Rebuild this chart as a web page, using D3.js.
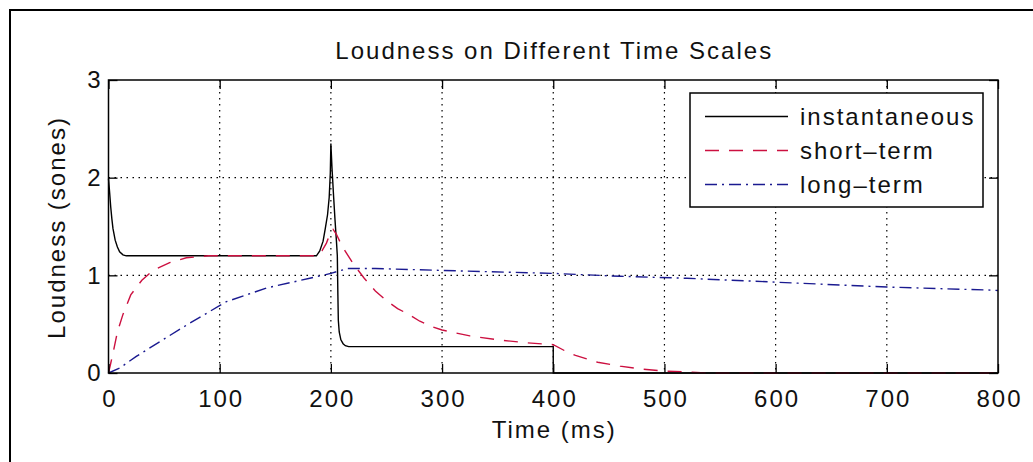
<!DOCTYPE html>
<html lang="en">
<head>
    <meta charset="UTF-8">
    <title>Loudness on Different Time Scales</title>
    <script src="https://d3js.org/d3.v7.min.js"></script>
    <style>
        body { margin: 0; background: #fff; }
        text {
            font-family: "Liberation Sans", Arial, Helvetica, sans-serif;
            font-size: 24px;
            letter-spacing: 2px;
            fill: #111;
        }
        .grid line { stroke: #000; stroke-width: 1.2; stroke-dasharray: 1.5,4.5; }
        .axis path { display: none; }
        .axis line { stroke: #000; stroke-width: 1.3; }
    </style>
</head>
<body>
    <svg width="1033" height="462"></svg>
    <script>
        // tick labels
        const xTicks = [0, 100, 200, 300, 400, 500, 600, 700, 800];
        const yTicks = [0, 1, 2, 3];

        const seriesNames = ["instantaneous", "short\u2013term", "long\u2013term"];

        // instantaneous loudness (ms, sones)
        const instT = [0, 1, 2, 3, 4, 6, 8, 10, 13, 16, 100, 187, 190, 193, 195, 197, 198.5, 199.5, 200,
                       201, 202.5, 203.7, 205, 205.8, 206.3, 206.7, 207.5, 209, 211, 213, 216, 300, 400, 400, 500, 600, 700, 800];
        const instV = [1.99, 1.85, 1.7, 1.58, 1.48, 1.36, 1.29, 1.24, 1.21, 1.2, 1.2, 1.2, 1.25, 1.35, 1.48, 1.62, 1.8, 2.05, 2.35,
                       2.1, 1.8, 1.57, 1.35, 1.2, 0.8, 0.54, 0.42, 0.34, 0.3, 0.28, 0.27, 0.27, 0.27, 0, 0, 0, 0, 0];

        // short-term loudness
        const shortT = [0, 2, 4, 8, 13, 20, 30, 40, 55, 70, 90, 187, 192, 196, 199, 202, 205, 210, 220, 230, 240, 250,
                        260, 270, 280, 292, 300, 325, 350, 375, 400, 410, 420, 440, 460, 480, 500, 520, 540, 600, 700, 800];
        const shortV = [0, 0.1, 0.2, 0.42, 0.6, 0.8, 0.95, 1.05, 1.13, 1.18, 1.2, 1.2, 1.25, 1.33, 1.42, 1.47, 1.42, 1.3, 1.12, 0.97, 0.84, 0.74,
                        0.66, 0.6, 0.53, 0.47, 0.44, 0.38, 0.34, 0.31, 0.29, 0.23, 0.18, 0.11, 0.07, 0.04, 0.02, 0.01, 0, 0, 0, 0];

        // long-term loudness
        const longT = [0, 10, 25, 46, 73, 106, 142, 181, 200, 215, 240, 300, 400, 460, 520, 560, 620, 700, 790, 800];
        const longV = [0, 0.05, 0.17, 0.32, 0.51, 0.73, 0.87, 0.97, 1.02, 1.07, 1.07, 1.05, 1.02, 0.99, 0.97, 0.95, 0.92, 0.88, 0.85, 0.845];

        const series = [
            { name: seriesNames[0], t: instT, v: instV, color: "#000", dash: null },
            { name: seriesNames[1], t: shortT, v: shortV, color: "#cc1040", dash: "14,10" },
            { name: seriesNames[2], t: longT, v: longV, color: "#1a1a90", dash: "12,5,2,5" }
        ];

        const margin = {top: 80, right: 35, bottom: 89, left: 108.5};
        const width = 1033 - margin.left - margin.right;
        const height = 462 - margin.top - margin.bottom;

        const svg = d3.select("svg");

        // outer figure frame (only left and top edges visible)
        svg.append("path")
            .attr("d", "M10,462 V10 H1033")
            .attr("fill", "none")
            .attr("stroke", "#000")
            .attr("stroke-width", 2);

        const g = svg.append("g")
            .attr("transform", `translate(${margin.left},${margin.top})`);

        const x = d3.scaleLinear().domain([0, 800]).range([0, width]);
        const y = d3.scaleLinear().domain([0, 3]).range([height, 0]);

        // dotted grid
        g.append("g").attr("class", "grid")
            .selectAll("line").data(xTicks.slice(1, -1)).enter().append("line")
            .attr("x1", d => x(d)).attr("x2", d => x(d))
            .attr("y1", 0).attr("y2", height);
        g.append("g").attr("class", "grid")
            .selectAll("line").data(yTicks.slice(1, -1)).enter().append("line")
            .attr("x1", 0).attr("x2", width)
            .attr("y1", d => y(d)).attr("y2", d => y(d));

        // curves
        const line = d3.line()
            .x(d => x(d[0]))
            .y(d => y(d[1]));

        series.forEach(s => {
            g.append("path")
                .datum(d3.zip(s.t, s.v))
                .attr("fill", "none")
                .attr("stroke", s.color)
                .attr("stroke-width", 1.4)
                .attr("stroke-dasharray", s.dash)
                .attr("d", line);
        });

        // axes with inward ticks on all sides
        const xAxis = g.append("g")
            .attr("class", "axis")
            .attr("transform", `translate(0,${height})`)
            .call(d3.axisBottom(x).tickValues(xTicks).tickFormat(d3.format("d"))
                .tickSizeInner(-9).tickSizeOuter(0).tickPadding(17));
        xAxis.selectAll("text").attr("dx", "1");

        g.append("g")
            .attr("class", "axis")
            .call(d3.axisTop(x).tickValues(xTicks).tickSizeInner(-9).tickSizeOuter(0).tickFormat(""));

        g.append("g")
            .attr("class", "axis")
            .call(d3.axisLeft(y).tickValues(yTicks).tickFormat(d3.format("d"))
                .tickSizeInner(-9).tickSizeOuter(0).tickPadding(6));

        g.append("g")
            .attr("class", "axis")
            .attr("transform", `translate(${width},0)`)
            .call(d3.axisRight(y).tickValues(yTicks).tickSizeInner(-9).tickSizeOuter(0).tickFormat(""));

        g.selectAll(".axis text").attr("fill", "#111").style("font-size", "24px");

        // axes box
        g.append("rect")
            .attr("width", width)
            .attr("height", height)
            .attr("fill", "none")
            .attr("stroke", "#000")
            .attr("stroke-width", 1.5);

        // title and axis labels
        svg.append("text")
            .attr("x", margin.left + width / 2 + 1)
            .attr("y", 59)
            .attr("text-anchor", "middle")
            .text("Loudness on Different Time Scales");

        svg.append("text")
            .attr("x", margin.left + width / 2 + 1)
            .attr("y", 438)
            .attr("text-anchor", "middle")
            .text("Time (ms)");

        svg.append("text")
            .attr("transform", `translate(65,${margin.top + height / 2 + 1}) rotate(-90)`)
            .attr("text-anchor", "middle")
            .text("Loudness (sones)");

        // legend
        const legend = g.append("g")
            .attr("transform", `translate(${690 - margin.left},${93 - margin.top})`);

        legend.append("rect")
            .attr("width", 293)
            .attr("height", 114)
            .attr("fill", "#fff")
            .attr("stroke", "#000")
            .attr("stroke-width", 1.5);

        const rows = legend.selectAll(".row")
            .data(series)
            .enter().append("g")
            .attr("class", "row")
            .attr("transform", (d, i) => `translate(0,${23.5 + i * 34})`);

        rows.append("line")
            .attr("x1", 15).attr("x2", 98)
            .attr("stroke", d => d.color)
            .attr("stroke-width", 1.4)
            .attr("stroke-dasharray", d => d.dash);

        rows.append("text")
            .attr("x", 110)
            .attr("dy", "0.36em")
            .text(d => d.name);
    </script>
</body>
</html>
